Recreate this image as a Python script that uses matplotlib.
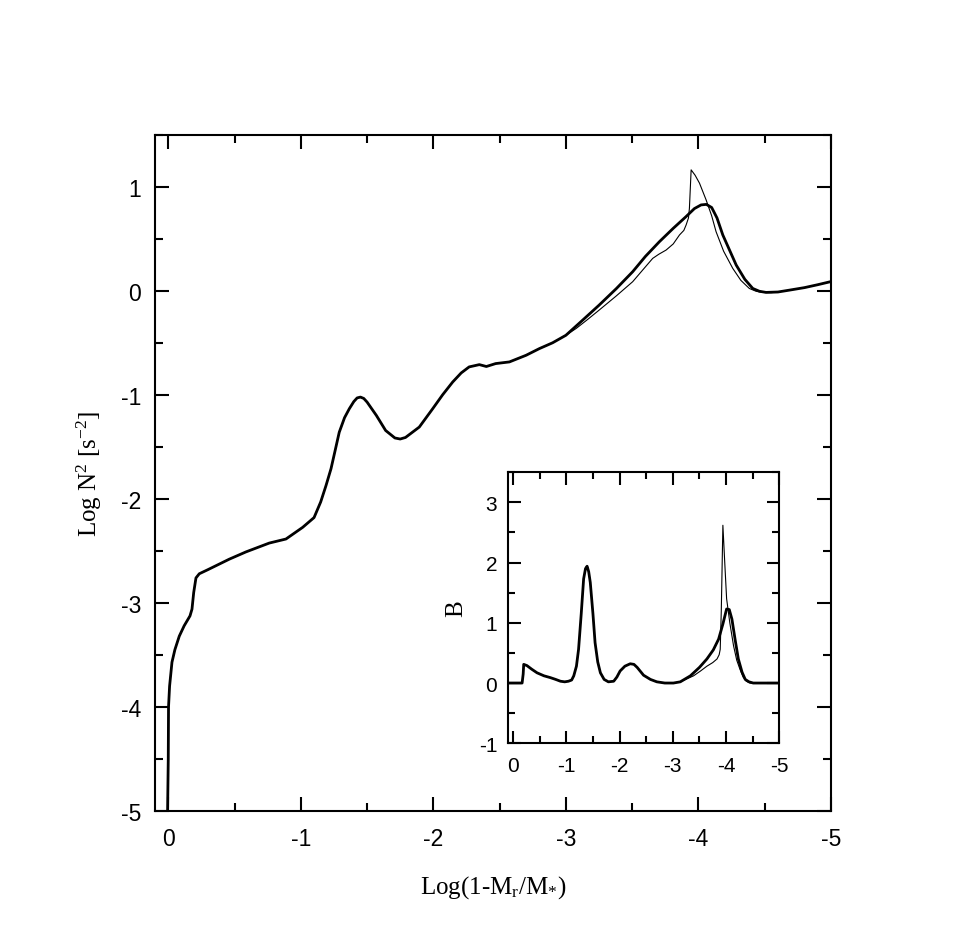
import matplotlib
matplotlib.use("Agg")
import matplotlib.pyplot as plt
from matplotlib.ticker import MultipleLocator

plt.rcParams['mathtext.fontset'] = 'custom'
plt.rcParams['mathtext.rm'] = 'Liberation Serif'
plt.rcParams['mathtext.it'] = 'Liberation Serif:italic'
plt.rcParams['font.family'] = ['Liberation Sans', 'DejaVu Sans']

# ---- Main panel: Log N^2 vs Log(1-Mr/M*) ----
common_x = [0.005, 0.0, -0.002, -0.01, -0.028, -0.05, -0.083, -0.12, -0.164, -0.179,
            -0.192, -0.209, -0.234, -0.30, -0.46, -0.586, -0.762, -0.888, -1.014, -1.10,
            -1.15, -1.19, -1.228, -1.26, -1.29, -1.33, -1.366, -1.40, -1.425, -1.45,
            -1.475, -1.50, -1.57, -1.64, -1.71, -1.75, -1.79, -1.894, -1.995, -2.07,
            -2.146, -2.21, -2.27, -2.347, -2.40, -2.47, -2.574, -2.70, -2.80, -2.90, -3.0]
common_y = [-5.0, -4.5, -4.0, -3.8, -3.57, -3.45, -3.32, -3.22, -3.125, -3.06,
            -2.90, -2.76, -2.72, -2.68, -2.58, -2.51, -2.425, -2.386, -2.274, -2.18,
            -2.03, -1.873, -1.71, -1.53, -1.36, -1.22, -1.134, -1.065, -1.03, -1.022,
            -1.035, -1.07, -1.198, -1.343, -1.415, -1.425, -1.41, -1.31, -1.134, -1.00,
            -0.877, -0.79, -0.732, -0.71, -0.728, -0.70, -0.684, -0.62, -0.556, -0.50, -0.428]

thick_tail_x = [-3.12, -3.25, -3.38, -3.504, -3.60, -3.706, -3.81, -3.907, -3.97, -4.02,
                -4.06, -4.10, -4.14, -4.184, -4.235, -4.285, -4.35, -4.41, -4.46, -4.51,
                -4.60, -4.687, -4.80, -4.90, -4.996]
thick_tail_y = [-0.29, -0.139, 0.02, 0.183, 0.33, 0.472, 0.60, 0.713, 0.79, 0.825,
                0.83, 0.80, 0.70, 0.536, 0.39, 0.247, 0.11, 0.022, -0.005, -0.016,
                -0.012, 0.006, 0.03, 0.058, 0.087]

thin_tail_x = [-3.077, -3.16, -3.25, -3.38, -3.504, -3.58, -3.655, -3.70, -3.756, -3.81,
               -3.857, -3.89, -3.907, -3.925, -3.932, -3.945, -3.975, -4.008, -4.058, -4.10,
               -4.133, -4.19, -4.259, -4.32, -4.384, -4.435, -4.485, -4.55, -4.60, -4.687,
               -4.80, -4.90, -4.996]
thin_tail_y = [-0.363, -0.28, -0.187, -0.05, 0.087, 0.20, 0.311, 0.35, 0.391, 0.45,
               0.536, 0.58, 0.632, 0.70, 0.793, 1.162, 1.11, 1.034, 0.873, 0.72,
               0.568, 0.38, 0.215, 0.10, 0.022, -0.005, -0.016, -0.018, -0.012, 0.006,
               0.03, 0.058, 0.087]

thick_x = common_x + thick_tail_x
thick_y = common_y + thick_tail_y
thin_x = common_x + thin_tail_x
thin_y = common_y + thin_tail_y

# ---- Inset: B vs Log(1-Mr/M*) ----
ins_common_x = [0.1, 0.0, -0.17, -0.19, -0.2, -0.26, -0.35, -0.45, -0.58, -0.70,
                -0.80, -0.89, -0.97, -1.04, -1.10, -1.14, -1.19, -1.23, -1.28, -1.325,
                -1.36, -1.39, -1.42, -1.45, -1.50, -1.54, -1.59, -1.64, -1.71, -1.79,
                -1.89, -1.95, -2.01, -2.10, -2.2, -2.27, -2.33, -2.45, -2.58, -2.70,
                -2.85, -3.01, -3.14]
ins_common_y = [0.0, 0.0, 0.0, 0.15, 0.31, 0.29, 0.23, 0.17, 0.12, 0.09,
                0.06, 0.03, 0.02, 0.03, 0.05, 0.12, 0.28, 0.56, 1.15, 1.73,
                1.90, 1.94, 1.85, 1.67, 1.15, 0.67, 0.35, 0.17, 0.06, 0.02,
                0.03, 0.10, 0.2, 0.28, 0.32, 0.31, 0.26, 0.13, 0.06, 0.02,
                0.0, 0.0, 0.02]
ins_thick_tail_x = [-3.33, -3.50, -3.64, -3.76, -3.86, -3.94, -4.01, -4.06, -4.11, -4.17,
                    -4.23, -4.30, -4.36, -4.43, -4.51, -4.70, -5.0]
ins_thick_tail_y = [0.12, 0.26, 0.40, 0.55, 0.73, 0.98, 1.23, 1.22, 1.06, 0.72,
                    0.40, 0.18, 0.06, 0.02, 0.0, 0.0, 0.0]
ins_thin_tail_x = [-3.39, -3.52, -3.64, -3.75, -3.83, -3.87, -3.89, -3.91, -3.94, -3.975,
                   -4.01, -4.07, -4.14, -4.20, -4.26, -4.32, -4.38, -4.45, -4.55, -4.70, -5.0]
ins_thin_tail_y = [0.12, 0.20, 0.28, 0.34, 0.40, 0.47, 0.56, 1.20, 2.62, 2.00,
                   1.40, 1.00, 0.62, 0.38, 0.23, 0.10, 0.03, 0.0, 0.0, 0.0, 0.0]

ins_thick_x = ins_common_x + ins_thick_tail_x
ins_thick_y = ins_common_y + ins_thick_tail_y
ins_thin_x = ins_common_x + ins_thin_tail_x
ins_thin_y = ins_common_y + ins_thin_tail_y

main_xticks = [0, -1, -2, -3, -4, -5]
main_yticks = [1, 0, -1, -2, -3, -4, -5]
ins_yticks = [3, 2, 1, 0, -1]

fig = plt.figure(figsize=(9.58, 9.28), dpi=100)
ax = fig.add_axes([0.1618, 0.125, 0.7056, 0.7288])
ins = fig.add_axes([0.530, 0.198, 0.2835, 0.292])

def style(a, fs, pady, padx, maj, mnr):
    for s in a.spines.values():
        s.set_linewidth(1.5)
    a.tick_params(which='both', direction='in', top=True, right=True, width=1.5,
                  labelsize=fs, colors='black')
    a.tick_params(which='major', length=maj)
    a.tick_params(which='minor', length=mnr)
    a.tick_params(axis='y', pad=pady)
    a.tick_params(axis='x', pad=padx)
    a.xaxis.set_minor_locator(MultipleLocator(0.5))
    a.yaxis.set_minor_locator(MultipleLocator(0.5))

ax.plot(thin_x, thin_y, color='black', lw=0.8)
ax.plot(thick_x, thick_y, color='black', lw=2.0)
ax.set_xlim(0.1, -5)
ax.set_ylim(-5, 1.5)
ax.set_xticks(main_xticks)
ax.set_yticks(main_yticks)
ax.set_xticklabels([str(t) for t in main_xticks])
ax.set_yticklabels([str(t) for t in main_yticks])
style(ax, 16.5, 10, 11.5, 10, 5.5)
ax.set_xlabel(r'Log(1-M$_{\mathrm{r}}$/M$_{*}$)', family='Liberation Serif', fontsize=18, labelpad=17)
ax.set_ylabel(r'Log N$^{\mathrm{2}}$ [s$^{\mathrm{-2}}$]', family='Liberation Serif', fontsize=18, labelpad=12)

ins.plot(ins_thin_x, ins_thin_y, color='black', lw=0.8)
ins.plot(ins_thick_x, ins_thick_y, color='black', lw=2.0)
ins.set_xlim(0.1, -5)
ins.set_ylim(-1, 3.5)
ins.set_xticks(main_xticks)
ins.set_yticks(ins_yticks)
ins.set_xticklabels([str(t) for t in main_xticks])
ins.set_yticklabels([str(t) for t in ins_yticks])
style(ins, 15, 7.5, 9, 9, 5)
ins.set_ylabel('B', family='Liberation Serif', fontsize=18, labelpad=8)

fig.savefig('out.png', dpi=100, facecolor='white')
